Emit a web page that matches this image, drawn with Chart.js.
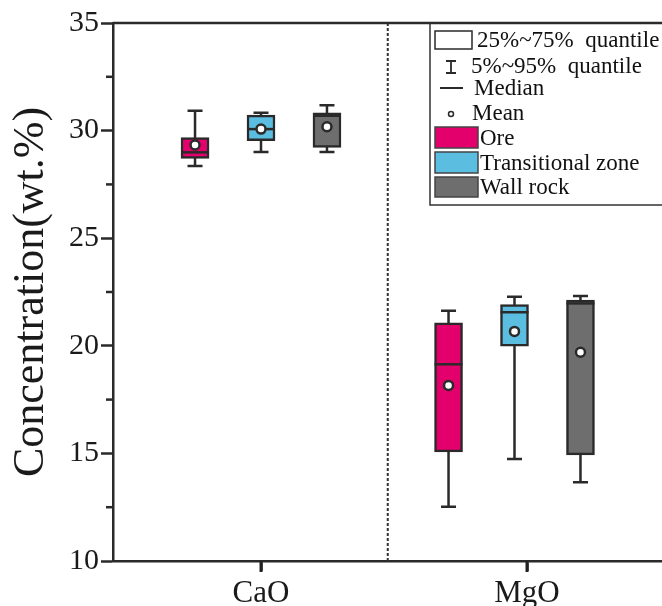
<!DOCTYPE html>
<html><head><meta charset="utf-8">
<script src="https://cdn.jsdelivr.net/npm/chart.js@4.4.1/dist/chart.umd.min.js"></script>
<style>html,body{margin:0;padding:0;background:#fff;overflow:hidden}#wrap{width:662px;height:606px;position:relative}</style>
</head><body><div id="wrap"><canvas id="c"></canvas></div>
<script>
// ---- data ----
const categories = ['CaO', 'MgO'];
const seriesNames = ['Ore', 'Transitional zone', 'Wall rock'];

const oreP5     = [28.36, 12.52];
const oreQ1     = [28.71, 15.07];
const oreMedian = [28.99, 19.14];
const oreQ3     = [29.67, 21.07];
const oreP95    = [30.92, 21.63];
const oreMean   = [29.33, 18.16];

const transP5     = [29.00, 14.74];
const transQ1     = [29.53, 19.98];
const transMedian = [30.07, 21.56];
const transQ3     = [30.72, 21.91];
const transP95    = [30.83, 22.28];
const transMean   = [30.07, 20.67];

const wallP5     = [29.00, 13.66];
const wallQ1     = [29.22, 14.93];
const wallMedian = [30.69, 21.97];
const wallQ3     = [30.83, 22.13];
const wallP95    = [31.18, 22.31];
const wallMean   = [30.18, 19.70];

const yMajorTicks = [10, 15, 20, 25, 30, 35];
const yMinorTicks = [12.5, 17.5, 22.5, 27.5, 32.5];

// ---- styling / layout (not data) ----
const FONT = "'Liberation Serif','Times New Roman',serif";
const INK = '#2a2a2a';
const colors = ['#E4006C', '#5BBDE0', '#6E6E6E'];
const groupCenters = [1.0, 1.953];
const seriesOffsets = [-0.248, 0, 0.248];
const BOX_W = 28, CAP_W = 15;

const stats = [
  {p5: oreP5, q1: oreQ1, med: oreMedian, q3: oreQ3, p95: oreP95, mean: oreMean},
  {p5: transP5, q1: transQ1, med: transMedian, q3: transQ3, p95: transP95, mean: transMean},
  {p5: wallP5, q1: wallQ1, med: wallMedian, q3: wallQ3, p95: wallP95, mean: wallMean}
];
const xPos = (s, c) => groupCenters[c] + seriesOffsets[s];

const boxDatasets = stats.map((st, s) => ({
  type: 'bar',
  label: seriesNames[s],
  data: categories.map((_, c) => ({x: xPos(s, c), y: [st.q1[c], st.q3[c]]})),
  backgroundColor: colors[s],
  borderColor: INK,
  borderWidth: 2.5,
  borderSkipped: false,
  barThickness: BOX_W,
  grouped: false,
  order: 2
}));
const meanDataset = {
  type: 'scatter',
  label: 'Mean',
  data: stats.flatMap((st, s) => categories.map((_, c) => ({x: xPos(s, c), y: st.mean[c]}))),
  pointRadius: 4.5,
  pointBackgroundColor: '#fff',
  pointBorderColor: INK,
  pointBorderWidth: 2.5,
  order: 1
};

const boxPlugin = {
  id: 'boxExtras',
  beforeDatasetsDraw(chart) {
    const {ctx, scales: {x, y}, chartArea} = chart;
    ctx.save();
    const xd = x.getPixelForValue((groupCenters[0] + groupCenters[1]) / 2);
    ctx.strokeStyle = '#333'; ctx.lineWidth = 2; ctx.setLineDash([3, 2]);
    ctx.beginPath(); ctx.moveTo(xd, chartArea.top); ctx.lineTo(xd, chartArea.bottom); ctx.stroke();
    ctx.setLineDash([]);
    ctx.strokeStyle = INK; ctx.lineWidth = 2.5;
    stats.forEach((st, s) => categories.forEach((_, c) => {
      const px = x.getPixelForValue(xPos(s, c));
      const lo = y.getPixelForValue(st.p5[c]), hi = y.getPixelForValue(st.p95[c]);
      ctx.beginPath();
      ctx.moveTo(px, lo); ctx.lineTo(px, hi);
      ctx.moveTo(px - CAP_W / 2, lo); ctx.lineTo(px + CAP_W / 2, lo);
      ctx.moveTo(px - CAP_W / 2, hi); ctx.lineTo(px + CAP_W / 2, hi);
      ctx.stroke();
    }));
    ctx.restore();
  },
  afterDatasetDraw(chart, args) {
    if (args.index > 2) return;
    const {ctx, scales: {x, y}} = chart;
    const st = stats[args.index];
    ctx.save();
    ctx.strokeStyle = INK; ctx.lineWidth = 2.5;
    categories.forEach((_, c) => {
      const px = x.getPixelForValue(xPos(args.index, c));
      const py = y.getPixelForValue(st.med[c]);
      ctx.beginPath(); ctx.moveTo(px - BOX_W / 2, py); ctx.lineTo(px + BOX_W / 2, py); ctx.stroke();
    });
    ctx.restore();
  },
  afterDraw(chart) {
    const {ctx, chartArea: ca, scales: {x, y}} = chart;
    ctx.save();
    ctx.setLineDash([]);
    ctx.globalAlpha = 1;
    ctx.fillStyle = '#222';
    const base = y.getPixelForValue(10);
    [1, 2].forEach(v => {
      const px = x.getPixelForValue(v);
      ctx.fillRect(px - 1.5, base, 3, 11);
    });
    ctx.strokeStyle = INK; ctx.lineWidth = 2.5;
    yMinorTicks.forEach(v => {
      const py = y.getPixelForValue(v);
      ctx.beginPath(); ctx.moveTo(ca.left - 7, py); ctx.lineTo(ca.left, py); ctx.stroke();
    });
    ctx.beginPath(); ctx.moveTo(ca.left, ca.top); ctx.lineTo(ca.right, ca.top); ctx.stroke();
    // legend
    const L = 430, T = ca.top, R = ca.right, B = 205;
    ctx.lineWidth = 1.5; ctx.strokeStyle = '#333';
    ctx.beginPath(); ctx.moveTo(L, T); ctx.lineTo(L, B); ctx.lineTo(R, B); ctx.stroke();
    ctx.fillStyle = '#111'; ctx.textBaseline = 'middle'; ctx.textAlign = 'left';
    ctx.font = '23px ' + FONT;
    ctx.strokeStyle = INK; ctx.lineWidth = 1.5;
    ctx.strokeRect(435, 31, 37, 18);
    ctx.fillText('25%~75%  quantile', 477, 41);
    ctx.lineWidth = 1.8;
    ctx.beginPath();
    ctx.moveTo(451, 61); ctx.lineTo(451, 73);
    ctx.moveTo(446, 61); ctx.lineTo(456, 61);
    ctx.moveTo(446, 73); ctx.lineTo(456, 73);
    ctx.stroke();
    ctx.fillText('5%~95%  quantile', 471, 67);
    ctx.lineWidth = 2;
    ctx.beginPath(); ctx.moveTo(440, 88); ctx.lineTo(463, 88); ctx.stroke();
    ctx.fillText('Median', 474, 89);
    ctx.lineWidth = 1.5;
    ctx.beginPath(); ctx.arc(451, 114, 2.5, 0, Math.PI * 2); ctx.stroke();
    ctx.fillText('Mean', 472, 114);
    const sw = [[127, 148], [152, 173], [177, 197]];
    seriesNames.forEach((n, s) => {
      ctx.fillStyle = colors[s];
      ctx.fillRect(435, sw[s][0], 43, sw[s][1] - sw[s][0]);
      ctx.strokeStyle = '#444'; ctx.lineWidth = 1.5;
      ctx.strokeRect(435, sw[s][0], 43, sw[s][1] - sw[s][0]);
      ctx.fillStyle = '#111';
      ctx.fillText(n, 480, (sw[s][0] + sw[s][1]) / 2 + 1);
    });
    ctx.restore();
  }
};

Chart.defaults.font.family = FONT;
Chart.defaults.color = '#1a1a1a';

new Chart(document.getElementById('c'), {
  type: 'bar',
  data: {datasets: [...boxDatasets, meanDataset]},
  options: {
    responsive: true,
    maintainAspectRatio: false,
    animation: false,
    layout: {autoPadding: false, padding: {top: 23, right: 0, left: 0, bottom: 0}},
    plugins: {legend: {display: false}, tooltip: {enabled: false}},
    scales: {
      x: {
        type: 'linear',
        min: 0.4436, max: 2.5075,
        offset: false,
        afterBuildTicks: s => { s.ticks = categories.map((_, i) => ({value: i + 1})); },
        afterFit: s => { s.height = 45; s.paddingLeft = 0; s.paddingRight = 0; },
        ticks: {
          autoSkip: false, maxRotation: 0,
          font: {size: 31, family: FONT}, color: '#1a1a1a', padding: 4,
          callback: (v) => categories[Math.round(v) - 1] || ''
        },
        grid: {offset: false, drawOnChartArea: false, drawTicks: true, tickLength: 10, tickWidth: 2.5, tickColor: INK},
        border: {display: true, color: INK, width: 2.5}
      },
      y: {
        min: 10, max: 35,
        afterBuildTicks: s => { s.ticks = yMajorTicks.map(v => ({value: v})); },
        afterFit: s => { s.width = 113; },
        ticks: {
          autoSkip: false,
          font: {size: 30, family: FONT}, color: '#1a1a1a', padding: 2,
          callback: v => String(v)
        },
        grid: {drawOnChartArea: false, drawTicks: true, tickLength: 12, tickWidth: 2.5, tickColor: INK},
        border: {display: true, color: INK, width: 2.5},
        title: {display: true, text: 'Concentration(wt.%)', font: {size: 44, family: FONT}, color: '#1a1a1a', padding: {top: 5, bottom: 0}}
      }
    }
  },
  plugins: [boxPlugin]
});
</script>
</body></html>
